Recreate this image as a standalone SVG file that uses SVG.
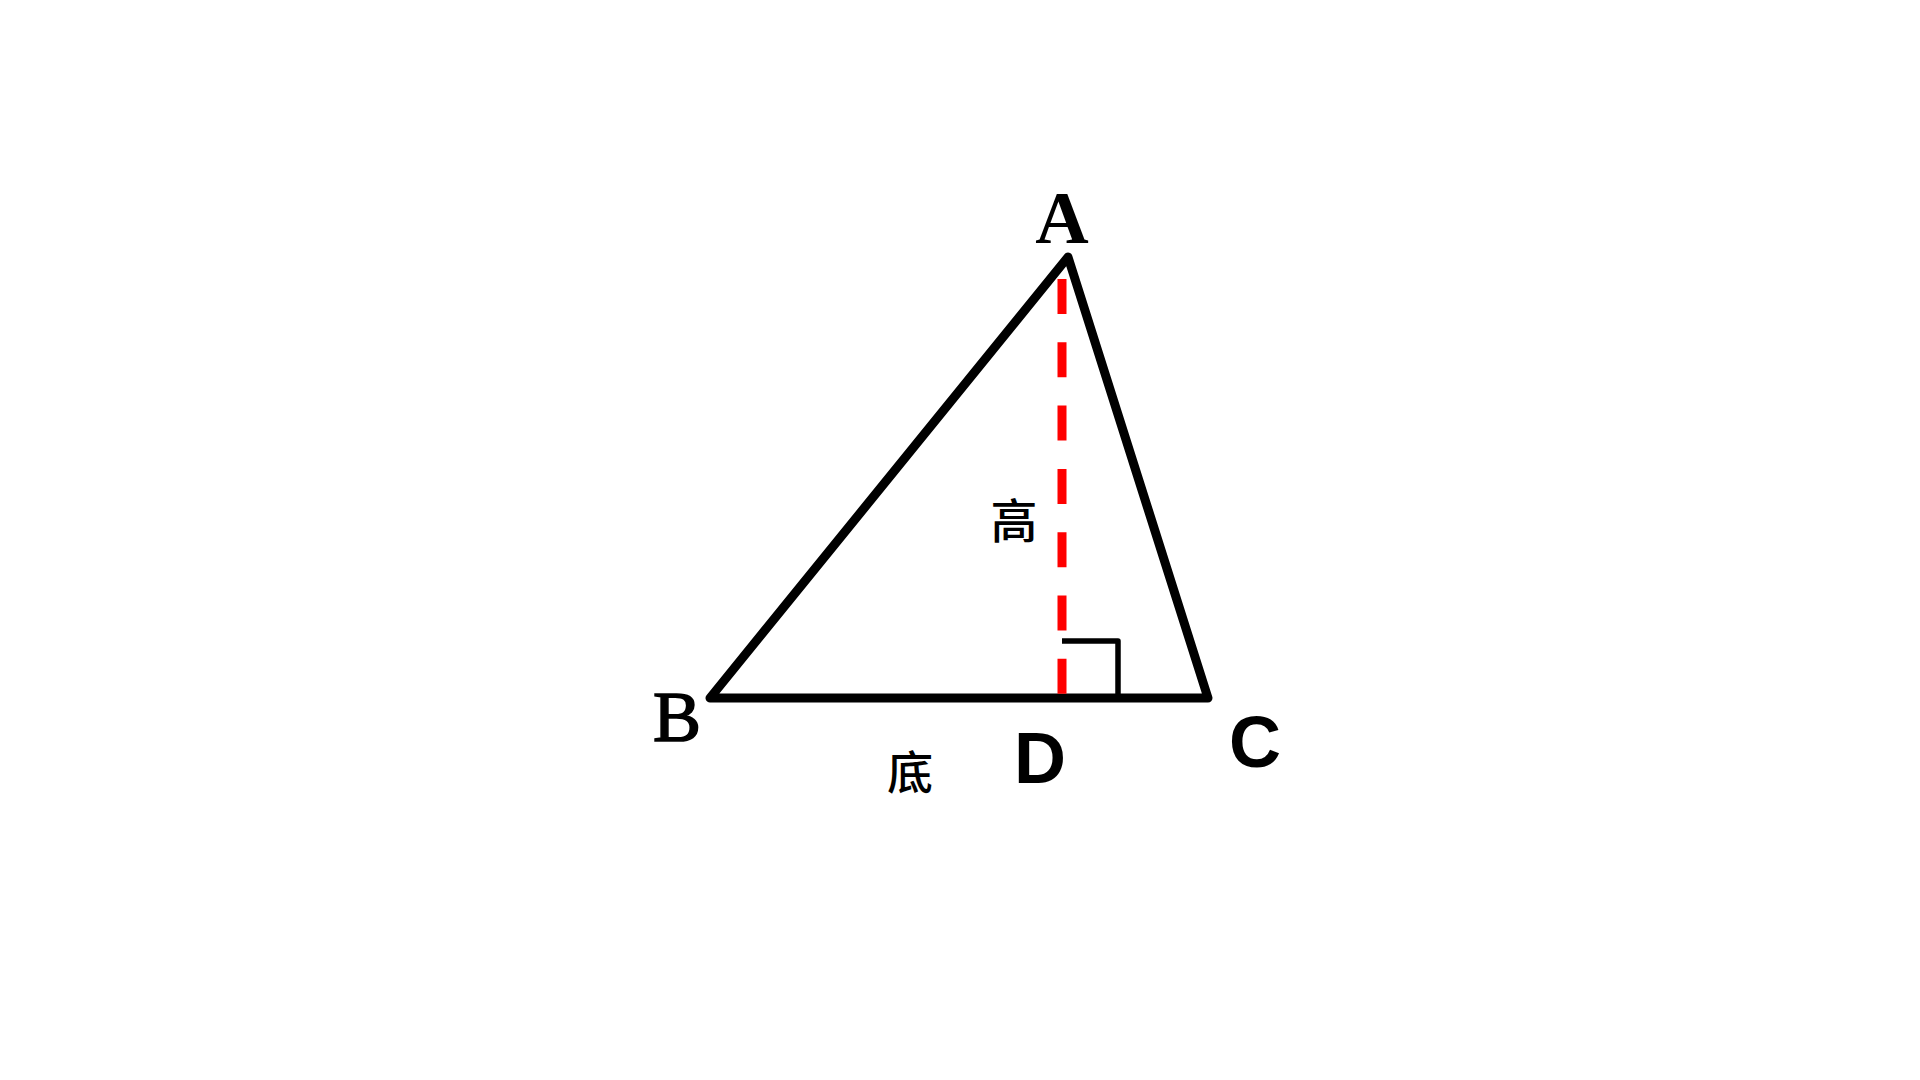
<svg xmlns="http://www.w3.org/2000/svg" width="1920" height="1080" viewBox="0 0 1920 1080">
  <style>
    .edge { fill: none; stroke: #000; stroke-width: 9; stroke-linejoin: round; stroke-linecap: round; }
    .height { fill: none; stroke: #f00; stroke-width: 9; stroke-dasharray: 35 28.3; }
    .mark { fill: none; stroke: #000; stroke-width: 5.5; stroke-linejoin: round; }
    .serif { font-family: "Liberation Serif", "Times New Roman", serif; fill: #000; text-anchor: middle; }
    .sans { font-family: "Liberation Sans", Arial, sans-serif; font-weight: bold; fill: #000; text-anchor: middle; }
    .cjk { font-family: "Noto Sans CJK SC", "Noto Sans CJK JP", sans-serif; fill: #000; text-anchor: middle; }
  </style>
  <rect width="1920" height="1080" fill="#fff"/>
  <g id="connectors">
    <polygon id="triangle" class="edge" points="1068,257 710,698 1208,698"/>
    <line id="altitude" class="height" x1="1062" y1="279" x2="1062" y2="694"/>
    <polyline id="right-angle" class="mark" points="1062,641 1118,641 1118,698"/>
  </g>
  <g id="node-A"><text class="serif" x="1062" y="243" font-size="74" font-weight="bold">A</text></g>
  <g id="node-B"><text class="serif" x="677" y="741" font-size="72" stroke="#000" stroke-width="1.6">B</text></g>
  <g id="node-C"><text class="sans" x="1255" y="767" font-size="72">C</text></g>
  <g id="node-D"><text class="sans" x="1040" y="783" font-size="72">D</text></g>
  <g id="label-height"><text class="cjk" x="1014" y="538" font-size="47" font-weight="500">高</text></g>
  <g id="label-base"><text class="cjk" x="910" y="789" font-size="46" font-weight="500">底</text></g>
</svg>
